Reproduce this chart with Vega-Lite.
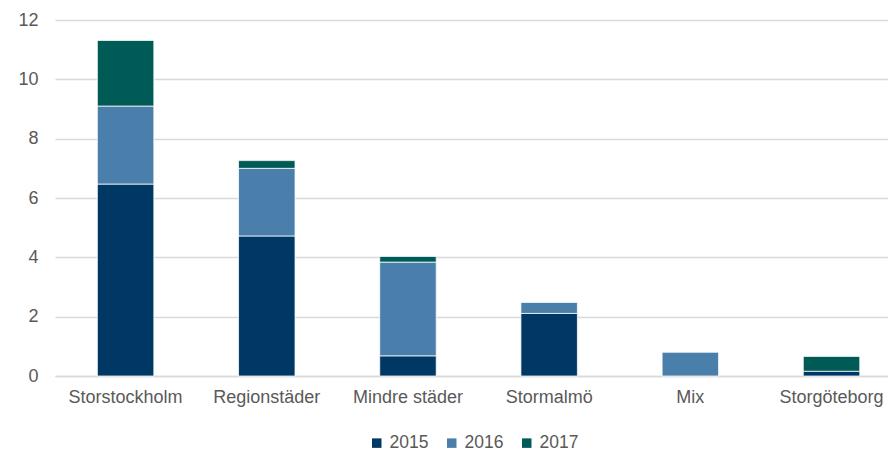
{
  "$schema": "https://vega.github.io/schema/vega-lite/v6.json",
  "width": 833,
  "height": 356,
  "autosize": "none",
  "padding": {"left": 55, "top": 20, "right": 0, "bottom": 75},
  "background": "white",
  "data": {
    "values": [
      {"region": "Storstockholm", "year": "2015", "value": 6.47},
      {"region": "Storstockholm", "year": "2016", "value": 2.63},
      {"region": "Storstockholm", "year": "2017", "value": 2.21},
      {"region": "Regionstäder", "year": "2015", "value": 4.72},
      {"region": "Regionstäder", "year": "2016", "value": 2.28},
      {"region": "Regionstäder", "year": "2017", "value": 0.26},
      {"region": "Mindre städer", "year": "2015", "value": 0.68},
      {"region": "Mindre städer", "year": "2016", "value": 3.16},
      {"region": "Mindre städer", "year": "2017", "value": 0.19},
      {"region": "Stormalmö", "year": "2015", "value": 2.11},
      {"region": "Stormalmö", "year": "2016", "value": 0.37},
      {"region": "Mix", "year": "2016", "value": 0.8},
      {"region": "Storgöteborg", "year": "2015", "value": 0.16},
      {"region": "Storgöteborg", "year": "2017", "value": 0.5}
    ]
  },
  "mark": {"type": "bar", "stroke": "white", "strokeWidth": 0.75},
  "encoding": {
    "x": {
      "field": "region",
      "type": "nominal",
      "sort": null,
      "title": null,
      "scale": {"paddingInner": 0.6, "paddingOuter": 0.25, "align": 0.6},
      "axis": {
        "labelAngle": 0,
        "ticks": false,
        "domainColor": "#d9d9d9",
        "domainWidth": 1.5,
        "labelPadding": 12,
        "labelFont": "Liberation Sans",
        "labelFontSize": 18,
        "labelColor": "#595959"
      }
    },
    "y": {
      "field": "value",
      "type": "quantitative",
      "aggregate": "sum",
      "stack": "zero",
      "title": null,
      "scale": {"domain": [0, 12], "nice": false},
      "axis": {
        "values": [0, 2, 4, 6, 8, 10, 12],
        "domain": false,
        "ticks": false,
        "gridColor": "#d9d9d9",
        "gridWidth": 1.5,
        "labelPadding": 17,
        "labelFont": "Liberation Sans",
        "labelFontSize": 18,
        "labelColor": "#595959"
      }
    },
    "color": {
      "field": "year",
      "type": "nominal",
      "scale": {"domain": ["2015", "2016", "2017"], "range": ["#003865", "#4a7eab", "#005a55"]},
      "legend": {
        "title": null,
        "orient": "none",
        "legendX": 313,
        "legendY": 414,
        "direction": "horizontal",
        "symbolType": "square",
        "symbolSize": 90,
        "symbolStrokeWidth": 0,
        "labelOffset": 4,
        "labelFont": "Liberation Sans",
        "labelFontSize": 17.5,
        "labelColor": "#595959",
        "columnPadding": 14
      }
    },
    "order": {"field": "year"}
  },
  "config": {"view": {"stroke": null}}
}
